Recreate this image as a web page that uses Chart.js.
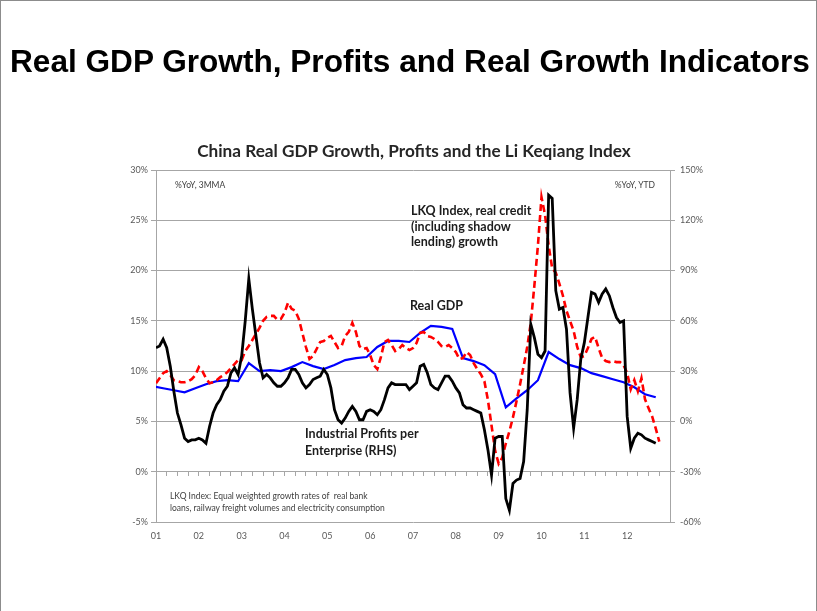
<!DOCTYPE html>
<html>
<head>
<meta charset="utf-8">
<script src="https://cdn.jsdelivr.net/npm/chart.js@4.4.0/dist/chart.umd.min.js"></script>
<style>
  html, body { margin: 0; padding: 0; background: #fff; }
  #page { position: relative; width: 817px; height: 611px; overflow: hidden; font-family: Lato, "Open Sans", sans-serif; }
  #frame { position: absolute; left: 0; top: 0; width: 815px; height: 620px; border: 1px solid #8c8c8c; }
  #chart { position: absolute; left: 0; top: 0; }
  .txt { position: absolute; white-space: nowrap; color: #1c1c1c; }
  #slideTitle { left: 10px; top: 46px; font: bold 31.6px/1 "Liberation Sans", Arial, sans-serif; color: #000; }
  #chartTitle { left: 0; width: 828px; text-align: center; top: 142px; font-weight: bold; font-size: 17.2px; line-height: 1; color: #262626; }
  .small { font-size: 8.5px; line-height: 12px; color: #404040; }
  .lbl { font-weight: bold; font-size: 12.5px; color: #1c1c1c; }
</style>
</head>
<body>
<div id="page">
  <div id="frame"></div>
  <canvas id="chart" width="817" height="611"></canvas>
  <div class="txt" id="slideTitle">Real GDP Growth, Profits and Real Growth Indicators</div>
  <div class="txt" id="chartTitle">China Real GDP Growth, Profits and the Li Keqiang Index</div>
  <div class="txt small" style="left:175px; top:179px;">%YoY, 3MMA</div>
  <div class="txt small" style="right:162px; top:179px;">%YoY, YTD</div>
  <div class="txt lbl" style="left:411px; top:203px; line-height:15.5px;">LKQ Index, real credit<br>(including shadow<br>lending) growth</div>
  <div class="txt lbl" style="left:410px; top:298px; line-height:16px;">Real GDP</div>
  <div class="txt lbl" style="left:305px; top:425px; line-height:17px;">Industrial Profits per<br>Enterprise (RHS)</div>
  <div class="txt small" style="left:170px; top:490px;">LKQ Index: Equal weighted growth rates of&nbsp; real bank<br>loans, railway freight volumes and electricity consumption</div>
</div>
<script>
// x axis: months counted from Jan 2001 (0) to Jan 2013 (144)
const yearLabels = ['01', '02', '03', '04', '05', '06', '07', '08', '09', '10', '11', '12'];
const leftTicks = [-5, 0, 5, 10, 15, 20, 25, 30];       // %YoY, 3MMA
const rightTicks = [-60, -30, 0, 30, 60, 90, 120, 150];  // %YoY, YTD

// LKQ index, monthly from Jan 2001 (left axis, %)
const lkqIndex = [
  8.8, 9.3, 9.8, 10.0, 9.6, 9.1, 9.0, 8.9, 8.9, 9.0, 9.2, 9.6,
  10.4, 10.0, 9.3, 8.8, 8.9, 9.1, 9.4, 9.6, 9.9, 10.3, 10.7, 11.1,
  11.1, 12.0, 12.5, 13.1, 13.7, 14.3, 15.0, 15.4, 15.5, 15.5, 15.1, 15.2,
  15.8, 16.8, 16.2, 16.0, 15.2, 13.8, 12.4, 11.2, 11.5, 12.2, 12.9, 13.0,
  13.3, 13.5, 12.9, 12.3, 12.5, 13.5, 13.9, 14.8, 13.9, 12.5, 12.2, 12.3,
  11.6, 10.6, 10.2, 11.4, 12.9, 13.1, 12.6, 12.0, 12.2, 12.6, 12.3, 12.1,
  12.3, 12.8, 13.8, 13.9, 13.5, 13.4, 13.2, 12.9, 12.5, 12.4, 12.6, 12.3,
  11.9, 11.2, 11.3, 11.9, 11.6, 10.8, 10.2, 9.7, 9.0, 7.1, 4.6, 2.1,
  0.8, 1.4, 2.8, 4.0, 5.4, 7.0, 8.7, 10.5, 12.4, 14.8, 18.5, 22.5,
  27.3, 25.5, 22.5, 20.2, 19.8, 18.7, 17.5, 16.0, 15.0, 14.0, 12.4, 11.4,
  11.5, 12.3, 13.2, 13.4, 12.3, 11.3, 11.0, 10.9, 11.0, 10.9, 10.9, 10.6,
  9.8, 8.2, 9.1, 8.0, 9.3, 7.2, 6.3, 5.5, 4.3, 3.0
];

// Industrial profits per enterprise, monthly from Jan 2001 (right axis, %)
const profitsPerEnterprise = [
  44, 45, 49, 44, 33, 18, 5, -2, -10, -12, -11, -11,
  -10, -11, -13, -3, 5, 10, 13, 18, 21, 29, 32, 28,
  39, 60, 85, 67, 51, 35, 26, 28, 26, 23, 21, 21,
  23, 26, 31, 31, 28, 23, 20, 22, 25, 26, 27, 31,
  28, 20, 7, 1, -1, 2, 6, 9, 6, 1, 1, 6,
  7, 6, 4, 7, 13, 20, 23, 22, 22, 22, 22, 19,
  21, 23, 33, 34, 29, 22, 20, 19, 23, 27, 27, 24,
  20, 17, 10, 8, 8, 7, 6, 5, -5, -17, -32, -10,
  -9, -9, -46, -53, -37, -35, -34, -24, 7, 58, 50, 40,
  38, 42, 135, 133, 78, 67, 68, 55, 17, -4, 13, 37,
  47, 62, 77, 76, 71, 76, 79, 75, 68, 62, 59, 60,
  3, -16, -10, -7, -8, -10, -11, -12, -13
];

// Real GDP, quarterly from Q4 2000 (left axis, %), plotted at quarter end
const gdpFirstMonth = -1;
const realGdp = [
  8.5,
  8.3, 8.1, 7.9, 8.3,
  8.7, 9.0, 9.1, 9.0,
  10.8, 10.0, 10.1, 10.0,
  10.4, 10.9, 10.5, 10.2,
  10.6, 11.1, 11.3, 11.4,
  12.4, 13.0, 13.0, 12.9,
  13.8, 14.5, 14.4, 14.2,
  11.3, 11.0, 10.6, 9.7,
  6.4, 7.3, 8.1, 9.1,
  11.9, 11.2, 10.6, 10.3,
  9.8, 9.5, 9.2, 8.9,
  8.4, 7.7, 7.4
];

const grey = '#a6a6a6';
const tickColor = '#595959';
const tickFont = { family: 'Lato', size: 9 };

Chart.defaults.font.family = 'Lato';

const ctx = document.getElementById('chart').getContext('2d');
new Chart(ctx, {
  type: 'line',
  data: {
    datasets: [
      {
        label: 'Industrial Profits per Enterprise (RHS)',
        data: profitsPerEnterprise.map((v, i) => ({ x: i, y: v })),
        yAxisID: 'y1',
        borderColor: '#000000',
        borderWidth: 2.8,
        order: 1
      },
      {
        label: 'LKQ Index, real credit (including shadow lending) growth',
        data: lkqIndex.map((v, i) => ({ x: i, y: v })),
        yAxisID: 'y',
        borderColor: '#ff0000',
        borderWidth: 2.6,
        borderDash: [7, 4],
        order: 2
      },
      {
        label: 'Real GDP',
        data: realGdp.map((v, i) => ({ x: gdpFirstMonth + 3 * i, y: v })),
        yAxisID: 'y',
        borderColor: '#0000ff',
        borderWidth: 2.2,
        order: 3
      }
    ]
  },
  options: {
    responsive: false,
    animation: false,
    layout: { padding: { left: 116, right: 97, top: 170, bottom: 65 } },
    elements: {
      point: { radius: 0 },
      line: { tension: 0, borderCapStyle: 'butt', borderJoinStyle: 'miter', fill: false }
    },
    plugins: {
      legend: { display: false },
      title: { display: false },
      tooltip: { enabled: false }
    },
    scales: {
      x: {
        type: 'linear',
        position: 'bottom',
        min: 0,
        max: 144,
        grid: { display: false, drawTicks: false },
        border: { display: false },
        ticks: {
          stepSize: 12,
          maxTicksLimit: 20,
          autoSkip: false,
          maxRotation: 0,
          padding: 9,
          font: tickFont,
          color: tickColor,
          callback: function(value) {
            return yearLabels[value / 12] ?? '';
          }
        },
        afterFit: function(scale) {
          scale.height = 24;
          scale.paddingLeft = 0;
          scale.paddingRight = 0;
        }
      },
      // quarterly tick marks on the 0% line
      xq: {
        type: 'linear',
        axis: 'x',
        position: { y: 0 },
        min: 0,
        max: 144,
        grid: { drawOnChartArea: false, color: grey, tickLength: 4 },
        border: { color: grey },
        ticks: {
          stepSize: 3,
          maxTicksLimit: 100,
          autoSkip: false,
          callback: function() { return ''; }
        }
      },
      y: {
        type: 'linear',
        position: 'left',
        min: leftTicks[0],
        max: leftTicks[leftTicks.length - 1],
        grid: { color: grey, tickLength: 5 },
        border: { color: grey },
        ticks: {
          stepSize: leftTicks[1] - leftTicks[0],
          padding: 3,
          font: tickFont,
          color: tickColor,
          callback: function(value) { return value + '%'; }
        },
        afterFit: function(scale) {
          scale.width = 40;
          scale.paddingTop = 0;
          scale.paddingBottom = 0;
        }
      },
      y1: {
        type: 'linear',
        position: 'right',
        min: rightTicks[0],
        max: rightTicks[rightTicks.length - 1],
        grid: { drawOnChartArea: false, color: grey, tickLength: 5 },
        border: { color: grey },
        ticks: {
          stepSize: rightTicks[1] - rightTicks[0],
          padding: 5,
          font: tickFont,
          color: tickColor,
          callback: function(value) { return value + '%'; }
        },
        afterFit: function(scale) {
          scale.width = 50;
          scale.paddingTop = 0;
          scale.paddingBottom = 0;
        }
      }
    }
  }
});
</script>
</body>
</html>
